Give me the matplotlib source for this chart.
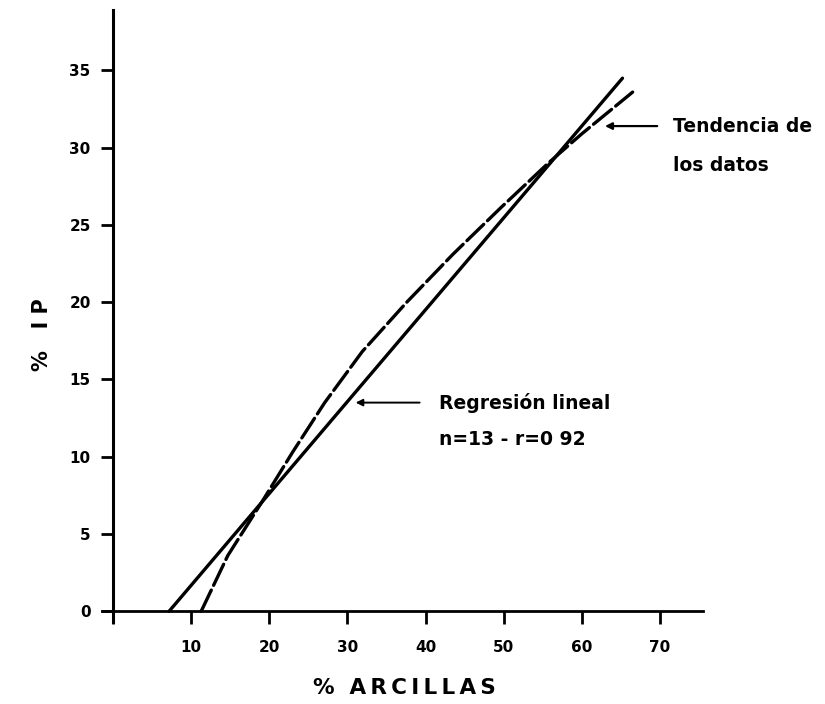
import matplotlib
matplotlib.use("Agg")
import matplotlib.pyplot as plt

# data
# regression line (solid)
reg_x = [7.2, 65.2]
reg_y = [0.0, 34.5]

# trend of the data (dashed curve)
trend_x = [11.3, 14.7, 19.1, 23.0, 27.1, 31.9, 37.6, 43.5, 49.6, 55.7, 60.0, 66.5]
trend_y = [0.0, 3.6, 7.1, 10.3, 13.5, 16.8, 20.0, 23.1, 26.1, 29.0, 30.9, 33.6]

xticks = [0, 10, 20, 30, 40, 50, 60, 70]
xtick_labels = ["", "10", "20", "30", "40", "50", "60", "70"]
yticks = [0, 5, 10, 15, 20, 25, 30, 35]
ytick_labels = ["0", "5", "10", "15", "20", "25", "30", "35"]

fig = plt.figure(figsize=(8.25, 7.04), dpi=100)
ax = fig.add_axes([0.1236, 0.1165, 0.7285, 0.869])

ax.plot(reg_x, reg_y, color="black", lw=2.4, solid_capstyle="round")
ax.plot(trend_x, trend_y, color="black", lw=2.4, dashes=(7, 1.6),
        dash_capstyle="round")

ax.set_xlim(-1.4, 75.5)
ax.set_ylim(-0.7, 38.9)

for s in ["top", "right"]:
    ax.spines[s].set_visible(False)
ax.spines["left"].set_position(("data", 0))
ax.spines["bottom"].set_position(("data", 0))
ax.spines["left"].set_linewidth(2.2)
ax.spines["bottom"].set_linewidth(2.0)

ax.set_xticks(xticks)
ax.set_xticklabels(xtick_labels)
ax.set_yticks(yticks)
ax.set_yticklabels(ytick_labels)
ax.tick_params(axis="x", direction="out", length=9, width=2, pad=12,
               labelsize=11)
ax.tick_params(axis="y", direction="out", length=9, width=2, pad=7,
               labelsize=11)
for lab in ax.get_xticklabels() + ax.get_yticklabels():
    lab.set_fontweight("bold")

# axis titles (placed in figure coords since spines sit at data zero)
thin = "\u2009"
fig.text(404 / 825, 1 - 688 / 704, "%  " + thin.join("ARCILLAS"),
         ha="center", va="center", fontsize=15.5, fontweight="bold")
fig.text(42 / 825, 1 - 335 / 704, "%   I P", ha="center", va="center",
         rotation=90, fontsize=15, fontweight="bold")

# annotations
ax.annotate("", xy=(62.6, 31.4), xytext=(70.0, 31.4),
            arrowprops=dict(arrowstyle="-|>", color="black", lw=1.6,
                            mutation_scale=10))
ax.text(71.6, 31.4, "Tendencia de", ha="left", va="center", fontsize=13.5,
        fontweight="bold")
ax.text(71.6, 28.85, "los datos", ha="left", va="center", fontsize=13.5,
        fontweight="bold")

ax.annotate("", xy=(30.7, 13.5), xytext=(39.6, 13.5),
            arrowprops=dict(arrowstyle="-|>", color="black", lw=1.4,
                            mutation_scale=10))
ax.text(41.7, 13.5, "Regresión lineal", ha="left", va="center", fontsize=13.5,
        fontweight="bold")
ax.text(41.7, 11.1, "n=13 - r=0 92", ha="left", va="center", fontsize=13.5,
        fontweight="bold")

fig.savefig("out.png", dpi=100)
